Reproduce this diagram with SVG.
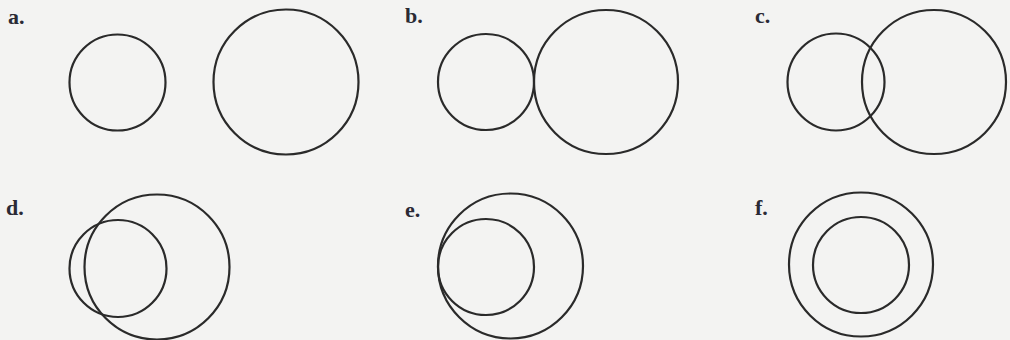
<svg xmlns="http://www.w3.org/2000/svg" width="1010" height="340" viewBox="0 0 1010 340">
<style>
.c{fill:none;stroke:#2a2a2a;stroke-width:2.2}
.l{font-family:"Liberation Serif",serif;font-weight:bold;font-size:22px;fill:#2a2a35}
</style>
<rect width="1010" height="340" fill="#f3f3f2"/>
<g id="a"><text class="l" x="8" y="24">a.</text><circle class="c" cx="117.5" cy="82.5" r="48"/><circle class="c" cx="286" cy="82" r="72.5"/></g>
<g id="b"><text class="l" x="405" y="23">b.</text><circle class="c" cx="486" cy="82" r="48"/><circle class="c" cx="606" cy="82" r="72"/></g>
<g id="c"><text class="l" x="755" y="23">c.</text><circle class="c" cx="836" cy="82" r="48.5"/><circle class="c" cx="934" cy="82" r="72"/></g>
<g id="d"><text class="l" x="6" y="215">d.</text><circle class="c" cx="118" cy="268.5" r="48.5"/><circle class="c" cx="157" cy="267" r="72.5"/></g>
<g id="e"><text class="l" x="405" y="217">e.</text><circle class="c" cx="486" cy="267" r="48"/><circle class="c" cx="510.5" cy="266" r="72.5"/></g>
<g id="f"><text class="l" x="755" y="215">f.</text><circle class="c" cx="861" cy="265" r="48"/><circle class="c" cx="861" cy="264.5" r="72"/></g>
</svg>
